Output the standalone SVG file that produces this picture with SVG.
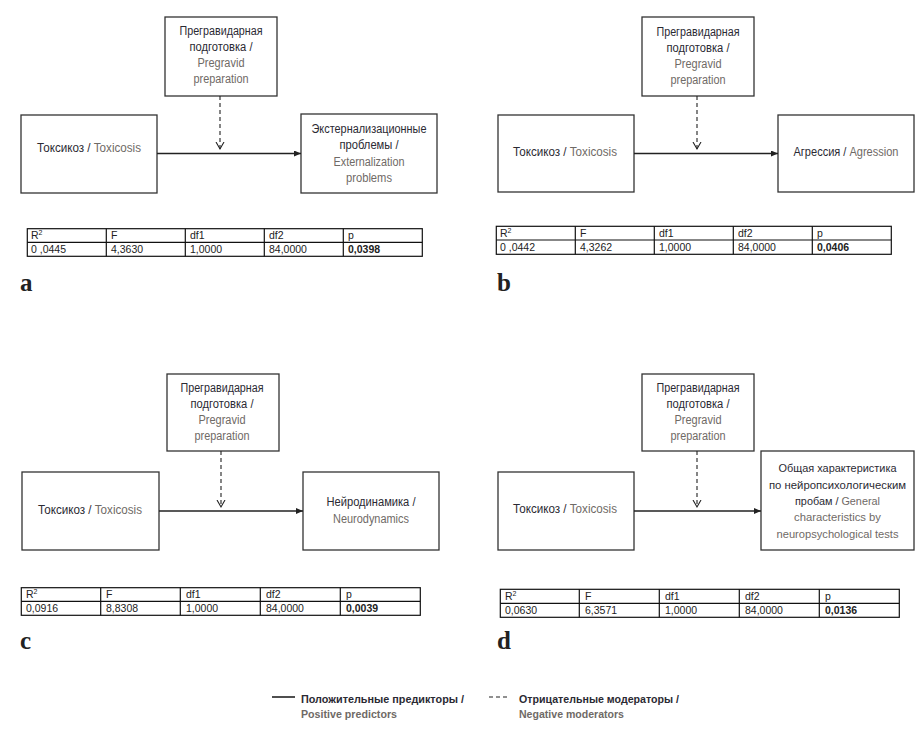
<svg xmlns="http://www.w3.org/2000/svg" width="924" height="739" viewBox="0 0 924 739">
<style>
.box{fill:#fff;stroke:#333;stroke-width:1.3}
text{font-family:"Liberation Sans",Arial,sans-serif;font-size:12px}
.c{text-anchor:middle}
.ru{fill:#2b2a33}
.en{fill:#6f6a66}
.sm{font-size:11.5px}
.tb rect{fill:none;stroke:#111;stroke-width:1.2}
.tb line{stroke:#111;stroke-width:1.2}
.tb text{font-size:10.5px;fill:#222}
.tb .b{font-weight:bold}
.solid{stroke:#222;stroke-width:1.6;fill:none}
.dash{stroke:#222;stroke-width:1.1;stroke-dasharray:4 3;fill:none}
.lbl{font-family:"Liberation Serif","Times New Roman",serif;font-weight:bold;font-size:25px;fill:#222}
.leg{font-weight:bold;font-size:11.5px}
</style>
<defs>
<marker id="ah" markerUnits="userSpaceOnUse" markerWidth="8" markerHeight="7" refX="7" refY="3" orient="auto"><path d="M0,0 L7,3 L0,6 z" fill="#222"/></marker>
<marker id="ch" markerUnits="userSpaceOnUse" markerWidth="9" markerHeight="10" refX="7.5" refY="4.5" orient="auto"><path d="M0.5,0.5 L7.5,4.5 L0.5,8.5" fill="none" stroke="#222" stroke-width="1.1"/></marker>
</defs>

<!-- Panel a -->
<g id="a-moderator">
<rect class="box" x="165" y="17" width="112" height="79"/>
<text class="c ru" x="221" y="35" textLength="83" lengthAdjust="spacingAndGlyphs">Прегравидарная</text>
<text class="c ru" x="221" y="51" textLength="63" lengthAdjust="spacingAndGlyphs">подготовка /</text>
<text class="c en" x="221" y="67" textLength="47" lengthAdjust="spacingAndGlyphs">Pregravid</text>
<text class="c en" x="221" y="83" textLength="55" lengthAdjust="spacingAndGlyphs">preparation</text>
</g>
<g id="a-predictor">
<rect class="box" x="21" y="115" width="136" height="78"/>
<text class="c" x="89" y="152" textLength="104" lengthAdjust="spacingAndGlyphs"><tspan class="ru">Токсикоз / </tspan><tspan class="en">Toxicosis</tspan></text>
</g>
<g id="a-outcome">
<rect class="box" x="301" y="114" width="136" height="79"/>
<text class="c ru" x="369" y="132.5" textLength="115" lengthAdjust="spacingAndGlyphs">Экстернализационные</text>
<text class="c ru" x="369" y="149" textLength="59" lengthAdjust="spacingAndGlyphs">проблемы /</text>
<text class="c en" x="369" y="165.5" textLength="71" lengthAdjust="spacingAndGlyphs">Externalization</text>
<text class="c en" x="369" y="182" textLength="46" lengthAdjust="spacingAndGlyphs">problems</text>
</g>

<!-- Panel b -->
<g id="b-moderator">
<rect class="box" x="642" y="17" width="112" height="79"/>
<text class="c ru" x="698" y="35.5" textLength="83" lengthAdjust="spacingAndGlyphs">Прегравидарная</text>
<text class="c ru" x="698" y="51.5" textLength="63" lengthAdjust="spacingAndGlyphs">подготовка /</text>
<text class="c en" x="698" y="67.5" textLength="47" lengthAdjust="spacingAndGlyphs">Pregravid</text>
<text class="c en" x="698" y="83.5" textLength="55" lengthAdjust="spacingAndGlyphs">preparation</text>
</g>
<g id="b-predictor">
<rect class="box" x="498" y="115" width="136" height="77"/>
<text class="c" x="565" y="156" textLength="104" lengthAdjust="spacingAndGlyphs"><tspan class="ru">Токсикоз / </tspan><tspan class="en">Toxicosis</tspan></text>
</g>
<g id="b-outcome">
<rect class="box" x="778" y="115" width="136" height="77"/>
<text class="c" x="846" y="156" textLength="105" lengthAdjust="spacingAndGlyphs"><tspan class="ru">Агрессия / </tspan><tspan class="en">Agression</tspan></text>
</g>

<!-- Panel c -->
<g id="c-moderator">
<rect class="box" x="167" y="374" width="112" height="77"/>
<text class="c ru" x="222" y="392" textLength="83" lengthAdjust="spacingAndGlyphs">Прегравидарная</text>
<text class="c ru" x="222" y="408" textLength="63" lengthAdjust="spacingAndGlyphs">подготовка /</text>
<text class="c en" x="222" y="424" textLength="47" lengthAdjust="spacingAndGlyphs">Pregravid</text>
<text class="c en" x="222" y="440" textLength="55" lengthAdjust="spacingAndGlyphs">preparation</text>
</g>
<g id="c-predictor">
<rect class="box" x="22" y="472" width="137" height="78"/>
<text class="c" x="90" y="514" textLength="104" lengthAdjust="spacingAndGlyphs"><tspan class="ru">Токсикоз / </tspan><tspan class="en">Toxicosis</tspan></text>
</g>
<g id="c-outcome">
<rect class="box" x="303" y="472" width="136" height="78"/>
<text class="c ru" x="371" y="506" textLength="89" lengthAdjust="spacingAndGlyphs">Нейродинамика /</text>
<text class="c en" x="371" y="522.5" textLength="76" lengthAdjust="spacingAndGlyphs">Neurodynamics</text>
</g>

<!-- Panel d -->
<g id="d-moderator">
<rect class="box" x="642" y="374" width="112" height="77"/>
<text class="c ru" x="698" y="392" textLength="83" lengthAdjust="spacingAndGlyphs">Прегравидарная</text>
<text class="c ru" x="698" y="408" textLength="63" lengthAdjust="spacingAndGlyphs">подготовка /</text>
<text class="c en" x="698" y="424" textLength="47" lengthAdjust="spacingAndGlyphs">Pregravid</text>
<text class="c en" x="698" y="440" textLength="55" lengthAdjust="spacingAndGlyphs">preparation</text>
</g>
<g id="d-predictor">
<rect class="box" x="498" y="472" width="136" height="78"/>
<text class="c" x="565" y="513" textLength="104" lengthAdjust="spacingAndGlyphs"><tspan class="ru">Токсикоз / </tspan><tspan class="en">Toxicosis</tspan></text>
</g>
<g id="d-outcome">
<rect class="box" x="761" y="451" width="153" height="99"/>
<text class="c ru sm" x="837.5" y="472" textLength="118" lengthAdjust="spacingAndGlyphs">Общая характеристика</text>
<text class="c ru sm" x="837.5" y="488.5" textLength="137" lengthAdjust="spacingAndGlyphs">по нейропсихологическим</text>
<text class="c sm" x="837.5" y="505" textLength="85" lengthAdjust="spacingAndGlyphs"><tspan class="ru">пробам / </tspan><tspan class="en">General</tspan></text>
<text class="c en sm" x="837.5" y="521" textLength="87" lengthAdjust="spacingAndGlyphs">characteristics by</text>
<text class="c en sm" x="837.5" y="537.5" textLength="122" lengthAdjust="spacingAndGlyphs">neuropsychological tests</text>
</g>

<!-- Connectors -->
<g id="connectors">
<line class="solid" x1="157" y1="153.5" x2="301" y2="153.5" marker-end="url(#ah)"/>
<line class="dash" x1="220" y1="96" x2="220" y2="149" marker-end="url(#ch)"/>
<line class="solid" x1="634" y1="153.5" x2="778" y2="153.5" marker-end="url(#ah)"/>
<line class="dash" x1="697" y1="96" x2="697" y2="149" marker-end="url(#ch)"/>
<line class="solid" x1="159" y1="511" x2="303" y2="511" marker-end="url(#ah)"/>
<line class="dash" x1="221" y1="451" x2="221" y2="507" marker-end="url(#ch)"/>
<line class="solid" x1="634" y1="511" x2="761" y2="511" marker-end="url(#ah)"/>
<line class="dash" x1="697" y1="451" x2="697" y2="507" marker-end="url(#ch)"/>
</g>

<!-- Tables -->
<g id="table-a" class="tb">
<rect x="27.3" y="228.7" width="395" height="27.6"/>
<line x1="27.3" y1="242.3" x2="422.3" y2="242.3"/>
<line x1="106.3" y1="228.7" x2="106.3" y2="256.3"/>
<line x1="185.3" y1="228.7" x2="185.3" y2="256.3"/>
<line x1="264.3" y1="228.7" x2="264.3" y2="256.3"/>
<line x1="343.3" y1="228.7" x2="343.3" y2="256.3"/>
<text x="31" y="239">R<tspan font-size="7" dy="-4">2</tspan></text>
<text x="111" y="239">F</text><text x="190" y="239">df1</text><text x="269" y="239">df2</text><text x="348" y="239">p</text>
<text x="31" y="252.5">0 ,0445</text><text x="111" y="252.5">4,3630</text><text x="190" y="252.5">1,0000</text><text x="269" y="252.5">84,0000</text><text class="b" x="348" y="252.5">0,0398</text>
</g>
<g id="table-b" class="tb">
<rect x="496.3" y="226.3" width="395" height="28"/>
<line x1="496.3" y1="240" x2="891.3" y2="240"/>
<line x1="575.3" y1="226.3" x2="575.3" y2="254.3"/>
<line x1="654.3" y1="226.3" x2="654.3" y2="254.3"/>
<line x1="733.3" y1="226.3" x2="733.3" y2="254.3"/>
<line x1="812.3" y1="226.3" x2="812.3" y2="254.3"/>
<text x="500" y="236.7">R<tspan font-size="7" dy="-4">2</tspan></text>
<text x="580" y="236.7">F</text><text x="659" y="236.7">df1</text><text x="738" y="236.7">df2</text><text x="817" y="236.7">p</text>
<text x="500" y="250.5">0 ,0442</text><text x="580" y="250.5">4,3262</text><text x="659" y="250.5">1,0000</text><text x="738" y="250.5">84,0000</text><text class="b" x="817" y="250.5">0,0406</text>
</g>
<g id="table-c" class="tb">
<rect x="21.3" y="587.7" width="399" height="27.6"/>
<line x1="21.3" y1="601.3" x2="420.3" y2="601.3"/>
<line x1="100.7" y1="587.7" x2="100.7" y2="615.3"/>
<line x1="180.3" y1="587.7" x2="180.3" y2="615.3"/>
<line x1="260.3" y1="587.7" x2="260.3" y2="615.3"/>
<line x1="340.3" y1="587.7" x2="340.3" y2="615.3"/>
<text x="26" y="598">R<tspan font-size="7" dy="-4">2</tspan></text>
<text x="106" y="598">F</text><text x="186" y="598">df1</text><text x="266" y="598">df2</text><text x="346" y="598">p</text>
<text x="26" y="611.5">0,0916</text><text x="106" y="611.5">8,8308</text><text x="186" y="611.5">1,0000</text><text x="266" y="611.5">84,0000</text><text class="b" x="346" y="611.5">0,0039</text>
</g>
<g id="table-d" class="tb">
<rect x="500.3" y="589.3" width="399" height="28"/>
<line x1="500.3" y1="603.3" x2="899.3" y2="603.3"/>
<line x1="579.3" y1="589.3" x2="579.3" y2="617.3"/>
<line x1="659.3" y1="589.3" x2="659.3" y2="617.3"/>
<line x1="739.3" y1="589.3" x2="739.3" y2="617.3"/>
<line x1="819.3" y1="589.3" x2="819.3" y2="617.3"/>
<text x="505" y="599.7">R<tspan font-size="7" dy="-4">2</tspan></text>
<text x="585" y="599.7">F</text><text x="665" y="599.7">df1</text><text x="745" y="599.7">df2</text><text x="825" y="599.7">p</text>
<text x="505" y="613.5">0,0630</text><text x="585" y="613.5">6,3571</text><text x="665" y="613.5">1,0000</text><text x="745" y="613.5">84,0000</text><text class="b" x="825" y="613.5">0,0136</text>
</g>

<!-- Panel labels -->
<text class="lbl" x="20" y="291">a</text>
<text class="lbl" x="497" y="291">b</text>
<text class="lbl" x="20" y="649">c</text>
<text class="lbl" x="497" y="649">d</text>

<!-- Legend -->
<g id="legend">
<line x1="272" y1="697" x2="295" y2="697" stroke="#222" stroke-width="1.6"/>
<line x1="489" y1="697" x2="507" y2="697" stroke="#222" stroke-width="1.2" stroke-dasharray="4 3"/>
<text class="leg ru" x="301" y="702.5" textLength="163" lengthAdjust="spacingAndGlyphs">Положительные предикторы /</text>
<text class="leg en" x="301" y="717.5" textLength="96" lengthAdjust="spacingAndGlyphs">Positive predictors</text>
<text class="leg ru" x="519" y="702.5" textLength="160" lengthAdjust="spacingAndGlyphs">Отрицательные модераторы /</text>
<text class="leg en" x="519" y="717.5" textLength="105" lengthAdjust="spacingAndGlyphs">Negative moderators</text>
</g>
</svg>
